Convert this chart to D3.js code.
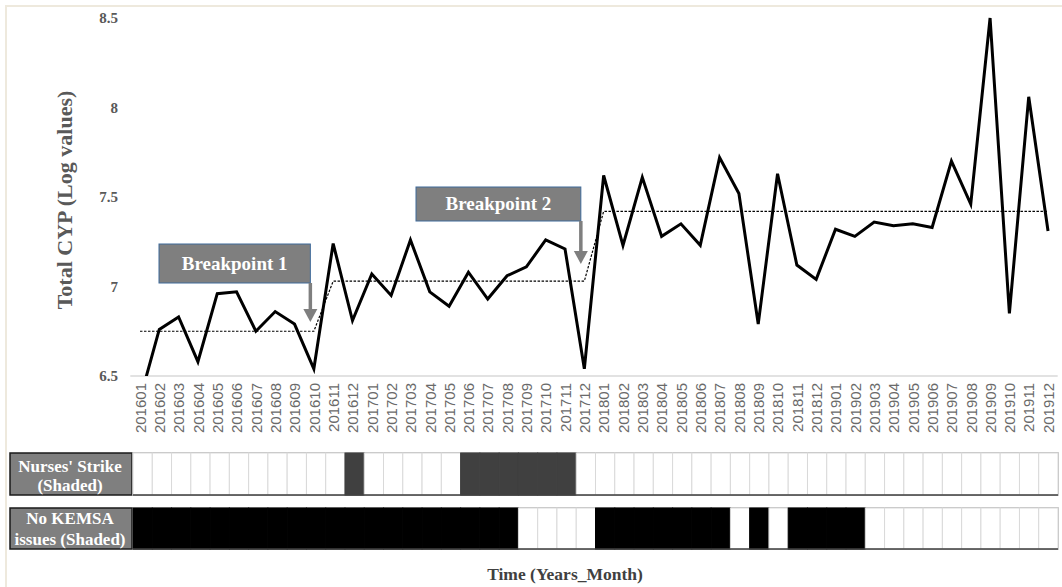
<!DOCTYPE html>
<html><head><meta charset="utf-8">
<script src="https://cdn.jsdelivr.net/npm/d3@7"></script>
<style>body{margin:0;background:#fff}svg{display:block}</style>
</head><body>
<svg id="c" width="1062" height="587"></svg>
<script>
const months = ["201601","201602","201603","201604","201605","201606","201607","201608","201609","201610","201611","201612",
"201701","201702","201703","201704","201705","201706","201707","201708","201709","201710","201711","201712",
"201801","201802","201803","201804","201805","201806","201807","201808","201809","201810","201811","201812",
"201901","201902","201903","201904","201905","201906","201907","201908","201909","201910","201911","201912"];
const totalCYP = [6.37,6.76,6.83,6.58,6.96,6.97,6.75,6.86,6.79,6.54,7.24,6.81,
7.07,6.95,7.26,6.97,6.89,7.08,6.93,7.06,7.11,7.26,7.21,6.54,
7.62,7.23,7.61,7.28,7.35,7.23,7.72,7.52,6.79,7.63,7.12,7.04,
7.32,7.28,7.36,7.34,7.35,7.33,7.70,7.46,8.50,6.85,8.06,7.31];
const fitted = [6.75,6.75,6.75,6.75,6.75,6.75,6.75,6.75,6.75,6.75,
7.03,7.03,7.03,7.03,7.03,7.03,7.03,7.03,7.03,7.03,7.03,7.03,7.03,7.03,
7.42,7.42,7.42,7.42,7.42,7.42,7.42,7.42,7.42,7.42,7.42,7.42,7.42,7.42,7.42,7.42,7.42,7.42,7.42,7.42,7.42,7.42,7.42,7.42];
const yTicks = [6.5,7,7.5,8,8.5];
const nursesStrike = ["201612","201706","201707","201708","201709","201710","201711"];
const noKemsa = ["201601","201602","201603","201604","201605","201606","201607","201608","201609","201610","201611","201612",
"201701","201702","201703","201704","201705","201706","201707","201708",
"201801","201802","201803","201804","201805","201806","201807","201809","201811","201812","201901","201902"];
const breakpoints = [{label:"Breakpoint 1", month:"201610"},{label:"Breakpoint 2", month:"201712"}];
const rowLabels = [["Nurses' Strike","(Shaded)"],["No KEMSA","issues (Shaded)"]];

const svg = d3.select("#c");
const serif = "'Liberation Serif','Times New Roman',serif";
const sans = "'Liberation Sans',Arial,sans-serif";

// outer frame
svg.append("rect").attr("x",6).attr("y",6).attr("width",1062).attr("height",590)
  .attr("fill","none").attr("stroke","#eee9dd").attr("stroke-width",2);

const plotTop = 18, plotBottom = 376;
const x = d3.scalePoint().domain(months).range([130.3,1057.7]).padding(0.5);
const y = d3.scaleLinear().domain([6.5,8.5]).range([plotBottom,plotTop]);

svg.append("clipPath").attr("id","clip").append("rect")
  .attr("x",130).attr("y",0).attr("width",930).attr("height",plotBottom);

// y axis
const ya = svg.append("g").attr("transform","translate(121,0)")
  .call(d3.axisLeft(y).tickValues(yTicks).tickSize(0).tickFormat(d=>String(d)));
ya.select(".domain").remove();
ya.selectAll("text").attr("font-family",serif).attr("font-weight","bold").attr("font-size",15)
  .attr("fill","#595959").attr("dy","0.32em");

// x axis
const xa = svg.append("g").attr("transform",`translate(0,${plotBottom})`)
  .call(d3.axisBottom(x).tickSize(0));
xa.select(".domain").attr("stroke","#d9d9d9").attr("stroke-width",1.5)
  .attr("d",`M130.3,0H1057.7`);
xa.selectAll("text").attr("font-family",sans).attr("font-size",15).attr("fill","#6a6a6a")
  .attr("transform","rotate(-90)").attr("text-anchor","end").attr("dy","0.35em").attr("dx",0)
  .attr("x",-7).attr("y",0);

// fitted dashed line
svg.append("path").datum(fitted)
  .attr("d",d3.line().x((d,i)=>x(months[i])).y(d=>y(d)))
  .attr("fill","none").attr("stroke","#000").attr("stroke-width",1.2).attr("stroke-dasharray","2.5,1.5");

// main line
svg.append("path").datum(totalCYP).attr("clip-path","url(#clip)")
  .attr("d",d3.line().x((d,i)=>x(months[i])).y(d=>y(d)))
  .attr("fill","none").attr("stroke","#000").attr("stroke-width",3).attr("stroke-linejoin","miter");

// breakpoint boxes + arrows
const boxes = [{x0:159,y0:244,h:39,tip:322},{x0:416,y0:187,h:34,tip:264}];
breakpoints.forEach((b,i)=>{
  const ax = x(b.month)-3.5;
  const bx = boxes[i];
  const g = svg.append("g");
  g.append("rect").attr("x",bx.x0).attr("y",bx.y0).attr("width",ax-bx.x0).attr("height",bx.h)
    .attr("fill","#7f7f7f").attr("stroke","#3f6a9a").attr("stroke-width",1);
  g.append("text").attr("x",(bx.x0+ax)/2).attr("y",bx.y0+bx.h/2).attr("dy","0.33em")
    .attr("text-anchor","middle").attr("font-family",serif).attr("font-weight","bold")
    .attr("font-size",19).attr("fill","#fff").text(b.label);
  g.append("line").attr("x1",ax).attr("x2",ax).attr("y1",bx.y0+bx.h).attr("y2",bx.tip-13)
    .attr("stroke","#7f7f7f").attr("stroke-width",3.5);
  g.append("path").attr("d",`M${ax-7},${bx.tip-13}L${ax+7},${bx.tip-13}L${ax},${bx.tip}Z`).attr("fill","#7f7f7f");
});

// shaded rows
const band = d3.scaleBand().domain(months).range([133,1058]);
const rows = [{y0:453,h:42,set:nursesStrike,fill:"#404040",base:[18.5,37.5]},
              {y0:508,h:41,set:noKemsa,fill:"#000",base:[15.5,37]}];
rows.forEach((r,ri)=>{
  const g = svg.append("g");
  g.append("rect").attr("x",10).attr("y",r.y0).attr("width",122).attr("height",r.h)
    .attr("fill","#7f7f7f").attr("stroke","#1a1a1a").attr("stroke-width",1.5);
  const t = g.append("text").attr("font-family",serif).attr("font-weight","bold").attr("font-size",17)
    .attr("fill","#fff").attr("text-anchor","middle");
  rowLabels[ri].forEach((l,k)=>t.append("tspan").attr("x",70).attr("y",r.y0+r.base[k]).text(l));
  g.append("rect").attr("x",133).attr("y",r.y0).attr("width",925).attr("height",r.h)
    .attr("fill","#fff").attr("stroke","#a6a6a6").attr("stroke-width",1.5);
  g.selectAll("rect.cell").data(months).join("rect").attr("class","cell")
    .attr("x",d=>band(d)).attr("y",r.y0).attr("width",band.bandwidth()).attr("height",r.h)
    .attr("fill",d=>r.set.includes(d)?r.fill:"#fff")
    .attr("stroke",d=>r.set.includes(d)?r.fill:"#d9d9d9").attr("stroke-width",1);
  g.append("line").attr("x1",133).attr("x2",1058).attr("y1",r.y0+r.h).attr("y2",r.y0+r.h)
    .attr("stroke","#404040").attr("stroke-width",1.5);
});

// axis titles
svg.append("text").attr("transform","translate(72,200) rotate(-90)").attr("text-anchor","middle")
  .attr("font-family",serif).attr("font-weight","bold").attr("font-size",22).attr("fill","#595959")
  .text("Total CYP (Log values)");
svg.append("text").attr("x",565).attr("y",580).attr("text-anchor","middle")
  .attr("font-family",serif).attr("font-weight","bold").attr("font-size",17.5).attr("fill","#404040")
  .text("Time (Years_Month)");
</script>
</body></html>
